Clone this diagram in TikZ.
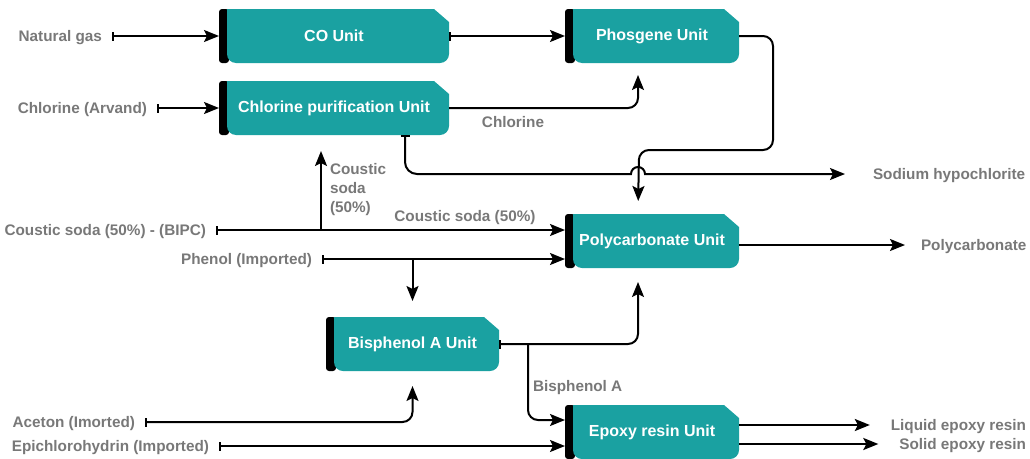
\documentclass[tikz,border=0pt]{standalone}
\usepackage{fontspec}
\setmainfont{Liberation Sans}
\usetikzlibrary{arrows.meta,backgrounds,calc}
\definecolor{unitteal}{RGB}{26,161,161}
\definecolor{labelgray}{RGB}{120,120,120}

\begin{document}
\begin{tikzpicture}[x=1pt,y=-1pt,>={Stealth[length=15pt,width=12pt,inset=3pt]},line width=2pt,
  unit/.style={minimum width=#1,minimum height=52pt,inner sep=0pt,text=white,font=\fontsize{16}{19}\selectfont\bfseries},
  unit/.default=172pt,
  note/.style={text=labelgray,inner sep=0pt,font=\fontsize{15.3}{19}\selectfont\bfseries},
  stream/.style={note,text height=12pt,text depth=1.5pt},
  feed/.style={{Bar[width=9pt,line width=2pt]}->}]

\useasboundingbox (0,0) rectangle (1030,458);

\node[unit=228pt] (CO)  at (334,36)   {CO Unit};
\node[unit=228pt] (CLP) at (334,108)  {Chlorine purification Unit};
\node[unit]       (PHG) at (652,36)   {Phosgene Unit};
\node[unit]       (PC)  at (652,241)  {Polycarbonate Unit};
\node[unit=171pt] (BPA) at (412.5,344) {Bisphenol A Unit};
\node[unit]       (EPX) at (652,432)  {Epoxy resin Unit};

\begin{scope}[on background layer]
\foreach \u in {CO,CLP,PHG,PC,BPA,EPX}{
  \fill[black,rounded corners=3pt] (\u.north west) rectangle ($(\u.south west)+(10,0)$);
  \fill[unitteal] ($(\u.north west)+(8,0)$) -- ($(\u.north east)+(-15,0)$) -- ($(\u.north east)+(0,13)$)
    [rounded corners=9pt] -- (\u.south east) -- ($(\u.south west)+(8,0)$) [sharp corners] -- cycle;
}
\end{scope}

\node[stream,anchor=east] (gas)    at (103,36)  {Natural gas};
\node[stream,anchor=east] (chl)    at (148,108) {Chlorine (Arvand)};
\node[stream,anchor=east] (soda)   at (207,230) {Coustic soda (50\%) - (BIPC)};
\node[stream,anchor=east] (phenol) at (313,259) {Phenol (Imported)};
\node[stream,anchor=east] (aceton) at (136,422) {Aceton (Imorted)};
\node[stream,anchor=east] (epi)    at (210,446) {Epichlorohydrin (Imported)};
\node[stream,anchor=west] (hypo)   at (872,174) {Sodium hypochlorite};
\node[stream,anchor=west] (pcout)  at (920,245) {Polycarbonate};
\node[stream,anchor=east] (liquid) at (1027,425) {Liquid epoxy resin};
\node[stream,anchor=east] (solid)  at (1027,444) {Solid epoxy resin};

\node[stream] (lblchl)  at (513,122) {Chlorine};
\node[stream] (lblsoda) at (465,216) {Coustic soda (50\%)};
\node[note,anchor=north west,align=left] (lblsoda2) at (329,162) {Coustic\\soda\\(50\%)};
\node[stream,anchor=west] (lblbpa) at (532,386) {Bisphenol A};

\coordinate (sodafork) at ($(soda.east)+(114,0)$);
\coordinate (bpafork)  at ($(BPA.east)+(29,0)$);

\path[feed]
  ([xshift=9pt]gas.east)    edge (CO.west)
  (CO.east)                 edge (PHG.west)
  ([xshift=9pt]chl.east)    edge (CLP.west)
  ([xshift=9pt]soda.east)   edge ([yshift=11pt]PC.west)
  ([xshift=9pt]phenol.east) edge ([yshift=-18pt]PC.west)
  ([xshift=9pt]epi.east)    edge ([yshift=-14pt]EPX.west);

\path[->]
  ([yshift=-4pt]PC.east)    edge ([xshift=-15pt]pcout.west)
  ([yshift=7pt]EPX.east)    edge ([xshift=-20pt]liquid.west)
  ([yshift=-12pt]EPX.east)  edge ([xshift=-20pt]solid.west)
  (sodafork)                edge[shorten >=16pt] (sodafork |- CLP.south)
  (BPA.north |- phenol.east) edge[shorten >=16pt] (BPA.north);

\draw[->,rounded corners=10pt,shorten >=12pt] (CLP.east) -| ([xshift=-14pt]PHG.south);
\draw[->,rounded corners=10pt,shorten >=13pt] (PHG.east) -- ++(34,0) -- ++(0,114) -- ++(-134,0)
  [sharp corners] -- ([xshift=-14pt]PC.north);
\draw[feed,rounded corners=12pt] ([xshift=71pt]CLP.south) |- ([xshift=-300pt]hypo.west)
  [sharp corners] -- ([xshift=-241pt]hypo.west) arc[start angle=180,end angle=0,radius=7pt]
  -- ([xshift=-27pt]hypo.west);
\draw[feed,rounded corners=10pt,shorten >=14pt] (BPA.east) -| ([xshift=-14pt]PC.south);
\draw[->,rounded corners=10pt] (bpafork) |- ([yshift=12pt]EPX.west);
\draw[feed,rounded corners=10pt,shorten >=15pt] ([xshift=9pt]aceton.east) -| (BPA.south);

\end{tikzpicture}
\end{document}
